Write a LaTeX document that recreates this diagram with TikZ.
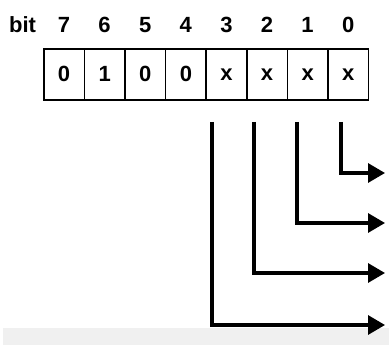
\documentclass[tikz,border=0pt]{standalone}
\usepackage{fontspec}
\setmainfont{Liberation Sans}
\usetikzlibrary{arrows.meta}
\begin{document}
\begin{tikzpicture}[x=1pt,y=-1pt,
  cellbox/.style={draw,line width=1.6pt,minimum width=40.6pt,minimum height=51pt,inner sep=0pt,anchor=north west,font=\bfseries\fontsize{22}{22}\selectfont},
  hdr/.style={font=\bfseries\fontsize{22}{22}\selectfont,inner sep=0pt},
  conn/.style={line width=3.2pt,-{Triangle[length=17pt,width=19pt]}}]
\useasboundingbox (0,0) rectangle (389,345);
\fill[black!6] (3,328) rectangle (389,345);
\node[hdr] (bit) at (22.5,25) {bit};
\foreach \v [count=\i from 0] in {0,1,0,0,x,x,x,x}{
  \pgfmathtruncatemacro\b{7-\i}
  \node[cellbox] (c\b) at ({43+40.6*\i},48) {\v};
  \node[hdr] (h\b) at ({64+40.6*\i},25) {\b};
}
\coordinate (t3) at (212,122); \coordinate (e3) at (385,325);
\coordinate (t2) at (254,122); \coordinate (e2) at (385,273);
\coordinate (t1) at (297,122); \coordinate (e1) at (385,223);
\coordinate (t0) at (341,122); \coordinate (e0) at (385,173);
\foreach \k in {0,1,2,3}{
  \draw[conn] (t\k) |- (e\k);
}
\end{tikzpicture}
\end{document}
